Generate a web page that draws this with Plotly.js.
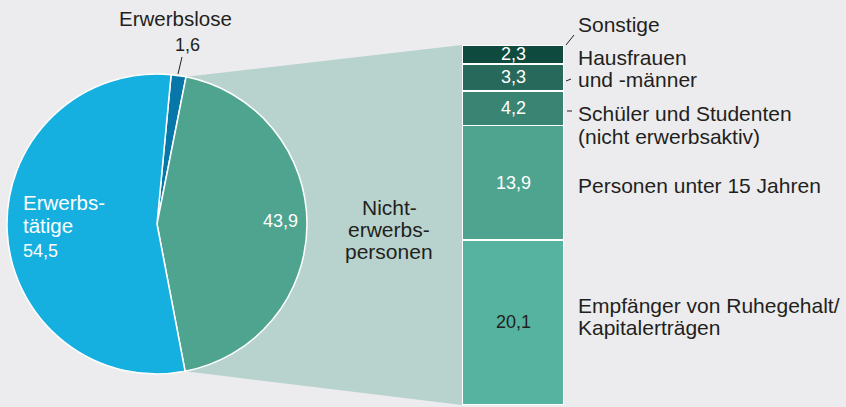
<!DOCTYPE html>
<html>
<head>
<meta charset="utf-8">
<script src="https://cdn.plot.ly/plotly-3.0.1.min.js"></script>
<style>
html,body{margin:0;padding:0;background:#ececee;}
#chart{width:846px;height:407px;}
</style>
</head>
<body>
<div id="chart"></div>
<script>
// ---- data ----
var pieLabels = ["Erwerbslose", "Nichterwerbspersonen", "Erwerbstätige"];
var pieValues = [1.6, 43.9, 54.5];
var pieColors = ["#0776a8", "#4ea48f", "#15b0e0"];

var barLabels = ["Empfänger von Ruhegehalt/<br>Kapitalerträgen", "Personen unter 15 Jahren", "Schüler und Studenten<br>(nicht erwerbsaktiv)", "Hausfrauen<br>und -männer", "Sonstige"];
var barValues = [20.1, 13.9, 4.2, 3.3, 2.3];
var barColors = ["#55b3a0", "#4ea48f", "#3a8473", "#276a5b", "#0e4a3e"];
var barTextColors = ["#231f20", "#ffffff", "#ffffff", "#ffffff", "#ffffff"];

// ---- geometry ----
var W = 846, H = 407;
var FONT = "Liberation Sans, Arial, Helvetica, sans-serif";
var TXT = "#231f20";
var pieCx = 157, pieCy = 224, pieR = 150;
var barX0 = 462, barX1 = 564, barTop = 45, barBottom = 405;
var rotation = 5.4;

function px(x){ return x / W; }
function py(y){ return 1 - y / H; }
function fmt(v){ return v.toFixed(1).replace(".", ","); }

var total = barValues.reduce(function(a,b){return a+b;}, 0);
var pieTotal = pieValues.reduce(function(a,b){return a+b;}, 0);

var traces = [];
traces.push({
  type: "pie",
  labels: pieLabels,
  values: pieValues,
  sort: false,
  direction: "clockwise",
  rotation: rotation,
  textinfo: "none",
  hoverinfo: "label+value",
  marker: {colors: pieColors, line: {color: "#ffffff", width: 1.5}},
  domain: {x: [px(pieCx - pieR), px(pieCx + pieR)], y: [py(pieCy + pieR), py(pieCy - pieR)]},
  showlegend: false
});

barValues.forEach(function(v, i){
  traces.push({
    type: "bar",
    x: [0],
    y: [v],
    width: [1],
    name: barLabels[i],
    marker: {color: barColors[i], line: {color: "#ffffff", width: 1.5}},
    hoverinfo: "name+y",
    showlegend: false,
    xaxis: "x",
    yaxis: "y"
  });
});

// connector polygon (derived from pie slice angles and bar extent)
var startDeg = rotation + pieValues[0] / pieTotal * 360;
var endDeg = startDeg + pieValues[1] / pieTotal * 360;
function pt(deg){
  var a = deg * Math.PI / 180;
  return [pieCx + pieR * Math.sin(a), pieCy - pieR * Math.cos(a)];
}
var p1 = pt(startDeg), p2 = pt(endDeg);
var path = "M" + px(p1[0]) + "," + py(p1[1]) +
           " L" + px(barX0) + "," + py(barTop) +
           " L" + px(barX0) + "," + py(barBottom) +
           " L" + px(p2[0]) + "," + py(p2[1]) + " Z";

var shapes = [
  {type: "path", xref: "paper", yref: "paper", path: path, fillcolor: "#b8d3ce", line: {width: 0}, layer: "below"},
  // leader lines
  {type: "line", xref: "paper", yref: "paper", x0: px(178), y0: py(74), x1: px(182), y1: py(57), line: {color: TXT, width: 1}},
  {type: "line", xref: "paper", yref: "paper", x0: px(566), y0: py(45), x1: px(574), y1: py(35), line: {color: TXT, width: 1}},
  {type: "line", xref: "paper", yref: "paper", x0: px(566), y0: py(81), x1: px(571), y1: py(79), line: {color: TXT, width: 1}},
  {type: "line", xref: "paper", yref: "paper", x0: px(567), y0: py(111), x1: px(572), y1: py(111), line: {color: TXT, width: 1}}
];

var ann = [];
function txt(t, x, y, size, color, xa){
  ann.push({text: t, xref: "paper", yref: "paper", x: px(x), y: py(y), xanchor: xa || "center", yanchor: "middle",
            showarrow: false, font: {family: FONT, size: size, color: color}});
}
// pie labels
txt("Erwerbslose", 175, 18, 20.5, TXT);
txt(fmt(pieValues[0]), 187, 45, 18, TXT);
txt("Erwerbs-", 21, 202, 20.5, "#ffffff", "left");
txt("tätige", 21, 225, 20.5, "#ffffff", "left");
txt(fmt(pieValues[2]), 21, 251, 18, "#ffffff", "left");
txt(fmt(pieValues[1]), 300, 221, 18, "#ffffff", "right");
txt("Nicht-", 389, 207, 21, TXT);
txt("erwerbs-", 389, 229, 21, TXT);
txt("personen", 389, 251, 21, TXT);

// bar value labels at segment centres
var cum = 0;
barValues.forEach(function(v, i){
  ann.push({text: fmt(v), xref: "x", yref: "y", x: 0, y: cum + v / 2, xanchor: "center", yanchor: "middle",
            showarrow: false, font: {family: FONT, size: 18, color: barTextColors[i]}});
  cum += v;
});

// bar category labels
var lblY = [[305, 327], [185], [113, 136], [57, 79], [24]];
barLabels.forEach(function(l, i){
  var lines = l.split("<br>");
  lines.forEach(function(s, j){ txt(s, 576, lblY[i][j], 21, TXT, "left"); });
});

var layout = {
  width: W, height: H,
  margin: {l: 0, r: 0, t: 0, b: 0},
  paper_bgcolor: "#ececee",
  plot_bgcolor: "rgba(0,0,0,0)",
  barmode: "stack",
  bargap: 0,
  xaxis: {domain: [px(barX0), px(barX1)], range: [-0.5, 0.5], visible: false, fixedrange: true},
  yaxis: {domain: [py(barBottom), py(barTop)], range: [0, total], visible: false, fixedrange: true},
  shapes: shapes,
  annotations: ann,
  showlegend: false
};

Plotly.newPlot("chart", traces, layout, {displayModeBar: false, staticPlot: true});
</script>
</body>
</html>
